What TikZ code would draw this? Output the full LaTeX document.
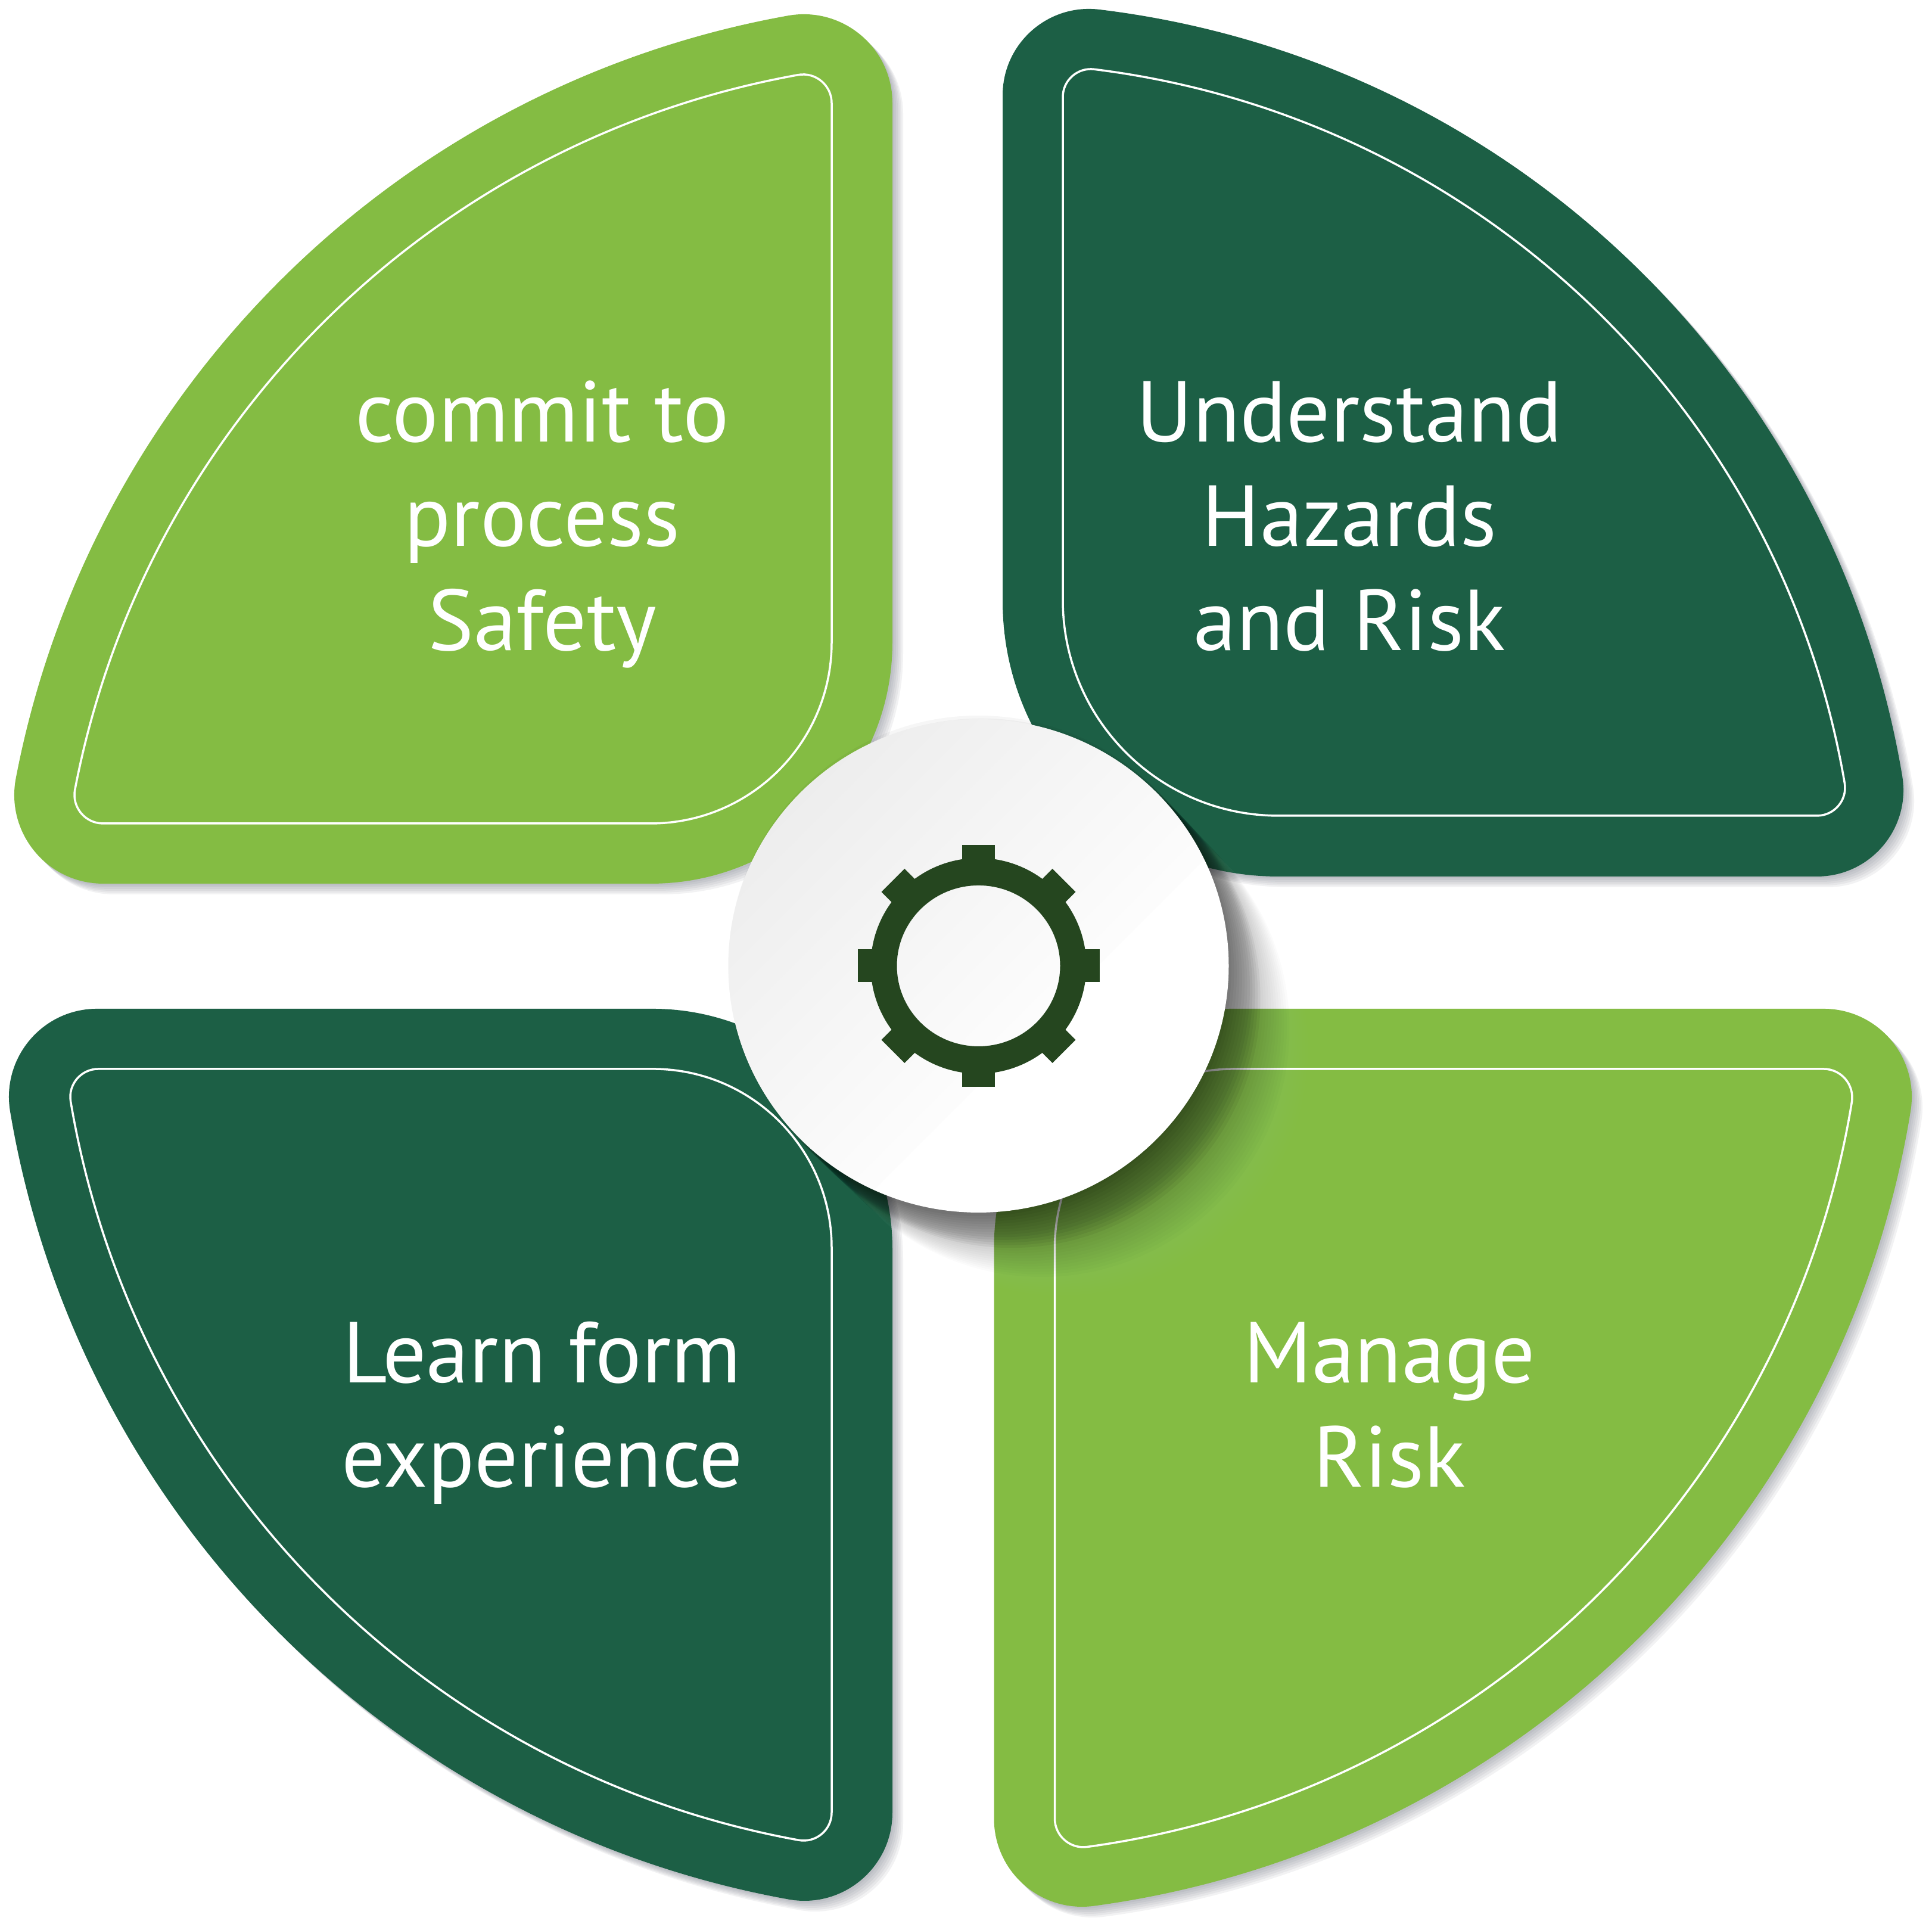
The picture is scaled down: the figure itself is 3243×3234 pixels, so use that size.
\documentclass[tikz,border=0pt]{standalone}
\usepackage{fontspec}
\usetikzlibrary{calc}
\setmainfont{PT Sans}
\definecolor{leaf}{HTML}{84BC43}
\definecolor{pine}{HTML}{1C5F45}
\definecolor{gearc}{HTML}{25461F}
\definecolor{shadowc}{HTML}{5A6070}
\pgfdeclareverticalshading{discshade}{100bp}{color(0bp)=(white); color(41.4bp)=(white); color(41.5bp)=(white!99!black); color(75bp)=(white!93!black); color(100bp)=(white!93!black)}
\tikzset{
  petalline/.style={draw=white,line width=0.7pt},
  label/.style={text=white,align=center,anchor=base,inner sep=0pt,
    font=\fontsize{29}{35}\selectfont},
}
% bu,bv,r,Lu,Lv,rho;  (\cu,\cv must be set)
\def\qcalc#1,#2,#3,#4,#5,#6;{%
  \def\bu{#1}\def\bv{#2}\def\qr{#3}\def\Lu{#4}\def\Lv{#5}%
  \pgfmathsetmacro\Fav{#2+#6}%
  \pgfmathsetmacro\Fbu{#1+#6}%
  \pgfmathsetmacro\aA{atan2(\Fav-\cv,#4-\cu)}%
  \pgfmathsetmacro\aB{atan2(#5-\cv,\Fbu-\cu)}%
  \pgfmathsetmacro\RR{(veclen(#4-\cu,\Fav-\cv)+veclen(\Fbu-\cu,#5-\cv))/2+#6}%
  \pgfmathsetmacro\Eau{#4+#6*cos(\aA)}%
  \pgfmathsetmacro\Eav{\Fav+#6*sin(\aA)}%
  \pgfmathsetmacro\Ebu{\Fbu+#6*cos(\aB)}%
  \pgfmathsetmacro\Ebv{#5+#6*sin(\aB)}%
  \pgfmathsetmacro\hA{4/3*tan((90+\aA)/4)*#6}%
  \pgfmathsetmacro\hB{4/3*tan((180-\aB)/4)*#6}%
  \pgfmathsetmacro\hh{4/3*tan((\aB-\aA)/4)*\RR}%
  \pgfmathsetmacro\Cau{\Eau-\hh*sin(\aA)}%
  \pgfmathsetmacro\Cav{\Eav+\hh*cos(\aA)}%
  \pgfmathsetmacro\Cbu{\Ebu+\hh*sin(\aB)}%
  \pgfmathsetmacro\Cbv{\Ebv-\hh*cos(\aB)}%
  \pgfmathsetmacro\fbu{\Eau+\hA*sin(\aA)}%
  \pgfmathsetmacro\fbv{\Eav-\hA*cos(\aA)}%
  \pgfmathsetmacro\fa{#4+\hA}%
  \pgfmathsetmacro\ga{#5+\hB}%
  \pgfmathsetmacro\gbu{\Ebu-\hB*sin(\aB)}%
  \pgfmathsetmacro\gbv{\Ebv+\hB*cos(\aB)}%
  \pgfmathsetmacro\ka{#3*.4477}%
}
\def\qpath{({\bu},{\bv+\qr}) -- (\bu,\Lv)
  .. controls (\bu,\ga) and (\gbu,\gbv) .. (\Ebu,\Ebv)
  .. controls (\Cbu,\Cbv) and (\Cau,\Cav) .. (\Eau,\Eav)
  .. controls (\fbu,\fbv) and (\fa,\bv) .. (\Lu,\bv)
  -- ({\bu+\qr},\bv)
  .. controls ({\bu+\ka},\bv) and (\bu,{\bv+\ka}) .. cycle}
% x0,y0,sx,sy,colour,cu,cv,outer,inner
\newcommand\petal[9]{%
  \begin{scope}[shift={(#1,3234-#2)},xscale=#3,yscale=#4]
    \def\cu{#6}\def\cv{#7}%
    \qcalc #8;%
    \foreach \dd in {3,6,9,12,15,18}{%
      \fill[shadowc,opacity=.08,shift={({\dd*(#3)},{-\dd*(#4)})}] \qpath;
    }
    \fill[#5] \qpath;
    \qcalc #9;%
    \path[petalline] \qpath;
  \end{scope}}
\begin{document}
\begin{tikzpicture}[x=0.2pt,y=0.2pt]
\useasboundingbox (0,0) rectangle (3243,3234);
\fill[white] (0,0) rectangle (3243,3234);

\petal{1498}{1483}{-1}{1}{leaf}{-108.5}{-126.7}
  {0,0,405,1325,1310,149}
  {102,101,304,1325,1310,48}
\petal{1683}{1471}{1}{1}{pine}{-25}{-89}
  {0,0,462,1367,1311,145}
  {101,102,362,1367,1308,47}
\petal{1498}{1693}{-1}{-1}{pine}{-113.3}{-95.9}
  {0,0,403,1335,1349,148}
  {102,101,300,1333,1349,47}
\petal{1668.5}{1693}{1}{-1}{leaf}{-47.2}{-86.5}
  {0,0,400,1392.5,1359,148}
  {102,101,300,1392.5,1359,48}

\node[label] (commit) at (910,3234-1092) {commit to\\process\\Safety};
\node[label] (understand) at (2265,3234-1092) {Understand\\Hazards\\and Risk};
\node[label] (learn) at (910,3234-2496) {Learn form\\experience};
\node[label] (manage) at (2332,3234-2496) {Manage\\Risk};

% centre disc: swept shadow, body, gear
\coordinate (hub) at (1642.5,3234-1621);
\foreach \tt in {16,17,...,30}{%
  \fill[white,opacity=.009] ($(hub)+({4.6*\tt},{-4.6*\tt})$) circle[radius={420-\tt/6}];
}
\foreach \tt in {8,9,...,23}{%
  \fill[black,opacity=.014] ($(hub)+({4.6*\tt},{-4.6*\tt})$) circle[radius={420-\tt/6}];
}
\foreach \tt in {0,1,...,12}{%
  \fill[black,opacity=.036] ($(hub)+({4.6*\tt},{-4.6*\tt})$) circle[radius={420-\tt/6}];
}
\path[shade,shading=discshade,shading angle=45] (hub) circle[x radius=420,y radius=414];
\fill[gearc,even odd rule] (hub) circle[radius=181] (hub) circle[x radius=137,y radius=135];
\foreach \aa in {0,45,...,315}{%
  \fill[gearc,shift={(hub)},rotate=\aa] (170,-27.5) rectangle (203,27.5);
}
\end{tikzpicture}
\end{document}
